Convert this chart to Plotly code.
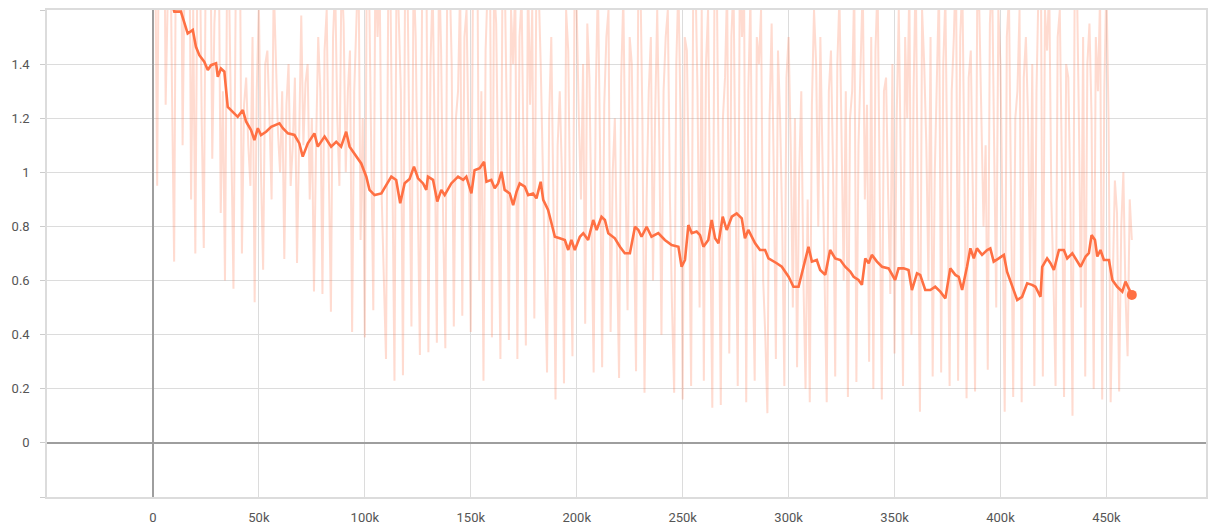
import plotly.graph_objects as go

# Raw training loss, logged every 1k steps (0 .. 462k)
raw_step_interval = 1000
raw_loss = [
    2.3, 1.9, 0.95, 2.2, 1.85, 2.4, 1.25, 1.7, 2.05, 1.3, 0.67, 2.1, 1.9, 2.3, 1.1, 1.8, 1.75, 2.2, 0.9, 1.6,
    0.70, 1.8, 1.95, 1.2, 0.72, 1.9, 1.7, 2.0, 1.05, 1.55, 1.8, 1.9, 0.85, 1.3, 0.60, 1.75, 1.65, 1.1, 0.57, 1.6,
    1.7, 1.9, 0.70, 1.25, 1.35, 1.1, 0.95, 1.5, 0.52, 1.3, 1.62, 1.0, 0.64, 1.4, 1.45, 1.2, 0.9, 1.7, 1.42, 1.15,
    1.0, 1.3, 0.68, 1.25, 1.4, 0.95, 1.1, 1.35, 0.665, 1.2, 1.58, 1.1, 1.33, 1.4, 0.9, 1.2, 0.56, 1.1, 1.5, 1.3,
    0.55, 1.45, 1.6, 1.0, 0.485, 1.5, 1.7, 1.2, 0.95, 1.75, 1.55, 1.0, 1.3, 1.45, 0.41, 1.3, 1.65, 1.8, 0.75, 1.2,
    0.39, 1.9, 1.7, 1.1, 0.49, 1.8, 1.5, 1.7, 0.9, 0.6, 0.31, 1.6, 1.75, 1.0, 0.23, 1.85, 1.6, 1.3, 0.25, 1.7,
    1.8, 1.2, 0.43, 1.75, 1.5, 0.9, 0.325, 1.6, 1.65, 1.9, 0.335, 1.4, 1.7, 1.1, 0.37, 1.8, 1.45, 0.8, 0.35, 1.9,
    1.75, 1.4, 0.43, 1.2, 1.3, 1.7, 0.47, 1.5, 1.6, 1.1, 0.41, 1.65, 1.8, 2.0, 0.6, 1.3, 0.23, 1.45, 1.7, 1.9,
    0.39, 1.7, 1.55, 0.9, 0.31, 1.8, 1.75, 1.2, 0.38, 1.6, 1.4, 1.7, 0.31, 1.5, 1.65, 1.0, 0.36, 1.75, 1.25, 1.6,
    0.46, 1.8, 1.7, 1.4, 1.0, 0.7, 0.26, 1.2, 1.5, 0.9, 0.16, 1.1, 1.3, 1.0, 0.22, 1.6, 1.45, 0.8, 0.32, 1.7,
    1.6, 1.2, 0.9, 1.4, 0.44, 1.55, 1.35, 0.8, 0.26, 1.3, 1.7, 1.1, 0.28, 1.25, 1.5, 1.6, 0.41, 1.0, 1.2, 0.7,
    0.24, 1.35, 1.65, 1.0, 0.49, 1.5, 1.4, 0.8, 0.265, 1.6, 1.75, 1.2, 0.185, 0.9, 1.3, 1.5, 0.6, 1.2, 1.6, 1.1,
    0.4, 1.3, 1.5, 1.6, 0.9, 0.5, 0.185, 1.4, 1.7, 1.2, 0.16, 1.5, 1.45, 0.9, 0.21, 1.7, 1.75, 1.3, 0.5, 1.6,
    0.23, 1.4, 1.6, 0.8, 0.13, 1.65, 1.8, 1.0, 0.14, 1.2, 1.35, 1.7, 0.33, 1.5, 1.7, 0.9, 0.21, 1.8, 1.5, 1.65,
    0.15, 1.3, 1.65, 0.7, 0.23, 1.5, 1.4, 1.6, 0.6, 0.4, 0.11, 1.2, 1.55, 1.0, 0.31, 1.45, 1.2, 0.8, 0.21, 1.35,
    1.5, 1.1, 0.5, 1.2, 0.28, 1.0, 1.3, 0.6, 0.20, 0.9, 0.15, 1.25, 1.6, 1.4, 0.8, 1.5, 1.1, 0.6, 0.15, 1.3,
    1.45, 1.0, 0.245, 1.4, 1.65, 1.1, 0.6, 1.3, 0.17, 1.2, 1.3, 1.7, 0.225, 1.1, 1.5, 1.7, 0.9, 1.25, 0.3, 1.5,
    0.20, 1.45, 1.7, 1.0, 0.16, 1.3, 1.35, 0.9, 0.55, 1.4, 0.33, 1.2, 1.6, 1.0, 0.21, 1.5, 1.2, 1.7, 0.4, 1.3,
    1.75, 0.9, 0.115, 1.6, 1.4, 1.1, 0.6, 1.5, 0.245, 1.0, 1.3, 1.7, 0.26, 1.4, 1.65, 0.9, 0.21, 1.3, 1.5, 1.8,
    0.23, 1.5, 1.7, 1.0, 0.165, 1.35, 1.45, 0.9, 0.19, 1.6, 1.6, 1.2, 0.8, 1.1, 0.27, 1.55, 1.75, 1.1, 0.5, 1.6,
    1.4, 0.8, 0.115, 1.5, 1.65, 0.9, 0.17, 1.2, 1.3, 1.6, 0.15, 1.35, 1.5, 1.2, 0.6, 1.4, 0.21, 1.3, 1.7, 1.9,
    0.245, 1.6, 1.45, 1.7, 0.9, 0.6, 0.21, 1.5, 1.6, 1.0, 0.17, 1.4, 1.35, 0.9, 0.10, 1.65, 1.75, 1.2, 0.5, 1.5,
    0.245, 1.4, 1.55, 1.2, 0.20, 1.5, 1.3, 1.65, 0.16, 1.3, 1.7, 1.2, 0.15, 0.6, 0.97, 0.85, 0.19, 0.8, 1.0, 0.55,
    0.32, 0.9, 0.75,
]
raw_steps = [i * raw_step_interval for i in range(len(raw_loss))]

# Smoothed loss curve (steps in thousands)
smooth_steps_k = [
    7.5, 10.1, 13.2, 14.8, 16.4, 18.8, 20.3, 21.9, 24.2, 25.9,
    27.4, 29.8, 30.6, 32.1, 33.7, 35.3, 37.7, 40.0, 42.4, 44.0,
    46.3, 47.9, 49.5, 51.0, 53.4, 55.8, 59.7, 61.3, 63.7, 66.8,
    69.1, 70.7, 73.1, 76.2, 77.8, 81.0, 84.1, 86.5, 88.8, 91.2,
    92.8, 95.1, 98.3, 100.7, 102.2, 104.6, 107.8, 110.1, 112.5, 114.8,
    116.7, 118.8, 121.1, 123.2, 125.1, 127.5, 129.0, 129.8, 132.2, 134.2,
    136.1, 137.7, 140.8, 144.0, 146.4, 147.9, 150.3, 151.8, 154.2, 156.3,
    157.4, 159.7, 161.3, 162.9, 164.5, 166.0, 168.4, 170.0, 171.6, 173.1,
    175.5, 177.1, 179.4, 181.0, 183.0, 184.2, 186.5, 188.1, 189.7, 192.0,
    194.4, 196.0, 197.5, 199.1, 201.5, 203.1, 205.4, 207.8, 209.4, 211.7,
    213.3, 214.9, 218.0, 220.4, 222.7, 225.1, 227.5, 229.1, 230.6, 233.0,
    235.3, 238.5, 241.6, 244.8, 248.0, 249.5, 251.1, 252.7, 254.3, 256.6,
    258.2, 259.8, 262.1, 263.7, 265.3, 266.9, 268.9, 270.8, 273.2, 275.5,
    277.9, 279.4, 281.0, 284.2, 286.5, 288.9, 290.5, 294.4, 296.8, 300.0,
    302.3, 304.7, 307.0, 309.4, 311.0, 313.3, 314.9, 317.3, 319.6, 322.0,
    324.4, 326.7, 329.1, 330.7, 333.0, 334.6, 336.2, 337.8, 339.3, 341.7,
    344.1, 347.2, 350.3, 351.9, 354.3, 356.6, 358.2, 360.6, 362.1, 364.5,
    366.9, 369.2, 371.6, 374.0, 376.3, 378.7, 380.3, 381.9, 384.2, 385.8,
    387.4, 388.9, 391.3, 393.7, 395.2, 396.8, 399.2, 401.6, 403.1, 405.5,
    407.9, 410.2, 412.6, 414.9, 416.5, 418.9, 419.7, 422.0, 423.6, 425.2,
    427.6, 429.9, 431.5, 433.9, 436.2, 437.8, 440.2, 441.7, 443.0, 444.6,
    445.7, 447.2, 448.8, 451.2, 452.8, 455.1, 457.5, 459.0, 462.0,
]
smooth_loss = [
    1.66, 1.594, 1.594, 1.55, 1.513, 1.526, 1.464, 1.433, 1.409, 1.378,
    1.396, 1.403, 1.353, 1.384, 1.372, 1.242, 1.224, 1.205, 1.23, 1.187,
    1.156, 1.119, 1.163, 1.138, 1.15, 1.168, 1.181, 1.163, 1.144, 1.138,
    1.107, 1.058, 1.107, 1.144, 1.095, 1.132, 1.095, 1.113, 1.095, 1.15,
    1.095, 1.07, 1.033, 0.984, 0.935, 0.916, 0.922, 0.953, 0.984, 0.972,
    0.886, 0.96, 0.975, 1.021, 0.978, 0.959, 0.935, 0.984, 0.972, 0.892,
    0.935, 0.916, 0.959, 0.984, 0.972, 0.984, 0.922, 1.008, 1.015, 1.039,
    0.965, 0.972, 0.941, 0.959, 1.002, 0.935, 0.922, 0.879, 0.928, 0.959,
    0.947, 0.916, 0.922, 0.904, 0.965, 0.898, 0.861, 0.812, 0.762, 0.756,
    0.75, 0.713, 0.75, 0.713, 0.762, 0.775, 0.75, 0.824, 0.787, 0.836,
    0.824, 0.775, 0.756, 0.725, 0.701, 0.701, 0.799, 0.787, 0.762, 0.799,
    0.762, 0.775, 0.75, 0.731, 0.725, 0.651, 0.676, 0.805, 0.775, 0.781,
    0.768, 0.725, 0.75, 0.824, 0.756, 0.738, 0.836, 0.787, 0.836, 0.848,
    0.83, 0.756, 0.787, 0.738, 0.713, 0.713, 0.682, 0.664, 0.651, 0.614,
    0.577, 0.577, 0.645, 0.725, 0.67, 0.676, 0.639, 0.621, 0.713, 0.682,
    0.676, 0.651, 0.633, 0.614, 0.602, 0.584, 0.682, 0.664, 0.695, 0.67,
    0.651, 0.645, 0.602, 0.645, 0.645, 0.639, 0.565, 0.627, 0.621, 0.565,
    0.565, 0.577, 0.559, 0.534, 0.645, 0.621, 0.614, 0.565, 0.651, 0.719,
    0.682, 0.719, 0.695, 0.713, 0.719, 0.67, 0.682, 0.695, 0.633, 0.577,
    0.528, 0.54, 0.59, 0.584, 0.577, 0.54, 0.651, 0.682, 0.664, 0.639,
    0.713, 0.713, 0.682, 0.701, 0.67, 0.651, 0.689, 0.701, 0.768, 0.75,
    0.689, 0.713, 0.676, 0.676, 0.602, 0.577, 0.559, 0.596, 0.547,
]
smooth_steps = [k * 1000 for k in smooth_steps_k]

# Axis ticks; the edge ticks carry grid lines but no label
x_tick_vals = [-50000, 0, 50000, 100000, 150000, 200000, 250000,
               300000, 350000, 400000, 450000]
x_tick_text = ["", "0", "50k", "100k", "150k", "200k", "250k",
               "300k", "350k", "400k", "450k"]
y_tick_vals = [-0.2, 0, 0.2, 0.4, 0.6, 0.8, 1.0, 1.2, 1.4, 1.6]
y_tick_text = ["", "0", "0.2", "0.4", "0.6", "0.8", "1", "1.2", "1.4", ""]

ORANGE = "#ff7043"
GRID = "#dcdcdc"

fig = go.Figure()
fig.add_trace(go.Scatter(
    x=raw_steps, y=raw_loss, mode="lines",
    line=dict(color="rgba(255,112,67,0.25)", width=2),
    hoverinfo="skip", showlegend=False,
))
fig.add_trace(go.Scatter(
    x=smooth_steps, y=smooth_loss, mode="lines",
    line=dict(color=ORANGE, width=2.6),
    showlegend=False,
))
fig.add_trace(go.Scatter(
    x=[smooth_steps[-1]], y=[smooth_loss[-1]], mode="markers",
    marker=dict(color=ORANGE, size=10),
    showlegend=False,
))

fig.update_layout(
    width=1208, height=527,
    margin=dict(l=47, r=0, t=10, b=30),
    paper_bgcolor="white", plot_bgcolor="white",
    font=dict(family="Roboto, sans-serif", size=13, color="#555555"),
    xaxis=dict(
        range=[-50000, 497000],
        tickmode="array", tickvals=x_tick_vals, ticktext=x_tick_text,
        showgrid=True, gridcolor=GRID, gridwidth=1.3,
        zeroline=True, zerolinecolor="#9e9e9e", zerolinewidth=2,
        showline=True, linecolor=GRID, linewidth=1.5, mirror=True,
        ticks="", ticklabelstandoff=8,
    ),
    yaxis=dict(
        range=[-0.2, 1.6],
        tickmode="array", tickvals=y_tick_vals, ticktext=y_tick_text,
        showgrid=True, gridcolor=GRID, gridwidth=1.3,
        zeroline=True, zerolinecolor="#9e9e9e", zerolinewidth=2,
        showline=True, linecolor=GRID, linewidth=1.5, mirror=True,
        ticks="outside", ticklen=5, tickcolor="#cccccc",
        ticklabelstandoff=8,
    ),
)

fig.write_html("out.html")
